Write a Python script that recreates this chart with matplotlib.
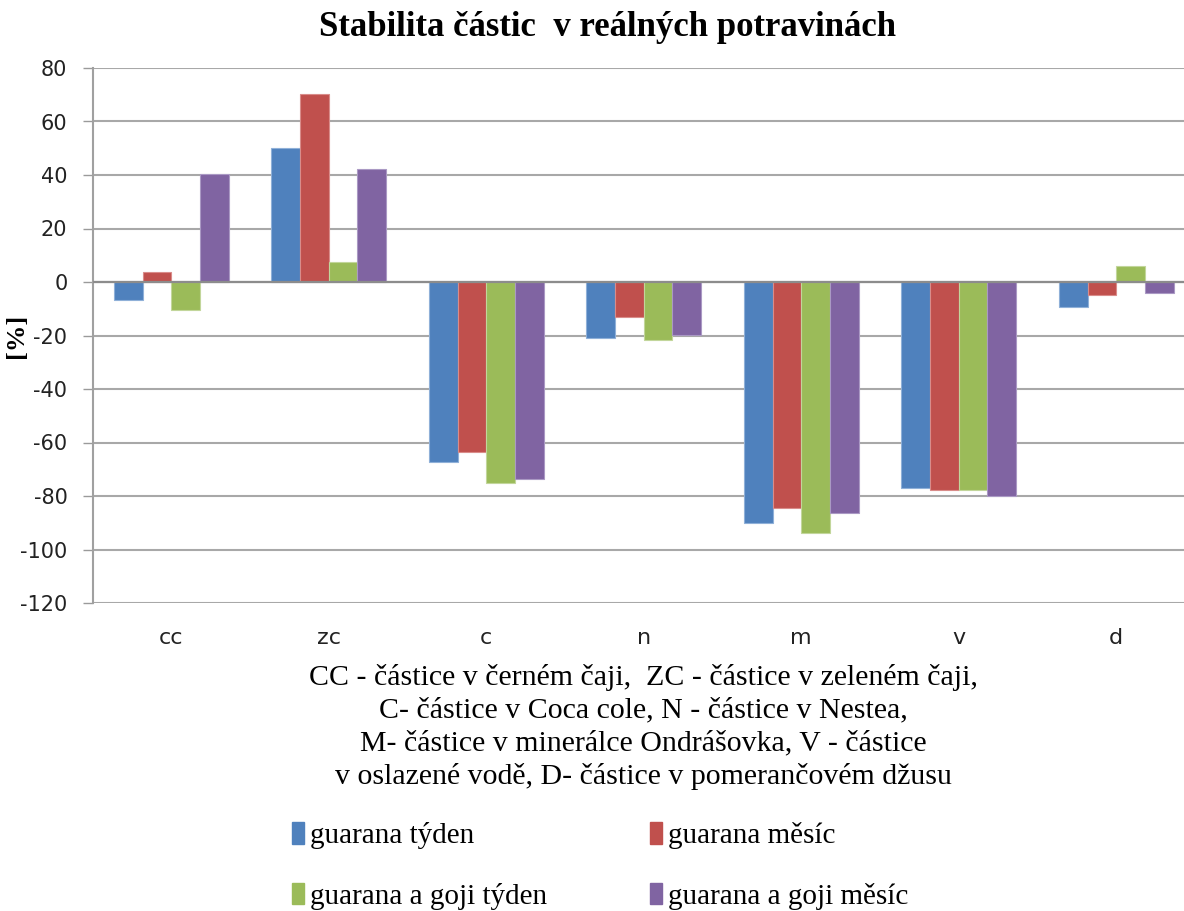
import numpy as np
import matplotlib
matplotlib.use("Agg")
import matplotlib.pyplot as plt
from matplotlib.patches import Patch

# data
categories = ["cc", "zc", "c", "n", "m", "v", "d"]
guarana_tyden = [-6.6, 50.0, -67.2, -20.9, -90.2, -77.1, -9.3]
guarana_mesic = [3.6, 70.2, -63.4, -13.0, -84.5, -77.6, -4.8]
goji_tyden = [-10.5, 7.5, -75.0, -21.7, -93.7, -77.6, 5.9]
goji_mesic = [40.5, 42.4, -73.8, -19.9, -86.3, -80.1, -4.0]

series_labels = ["guarana týden", "guarana měsíc",
                 "guarana a goji týden", "guarana a goji měsíc"]
series_colors = ["#4F81BD", "#C0504D", "#9BBB59", "#8064A2"]
edge_colors = ["#8FB0D8", "#D98C8A", "#C2D69B", "#AA99C4"]
y_ticks = [80, 60, 40, 20, 0, -20, -40, -60, -80, -100, -120]

title = "Stabilita částic  v reálných potravinách"
x_note = ("CC - částice v černém čaji,  ZC - částice v zeleném čaji,\n"
          "C- částice v Coca cole, N - částice v Nestea,\n"
          "M- částice v minerálce Ondrášovka, V - částice\n"
          "v oslazené vodě, D- částice v pomerančovém džusu")

serif = "Liberation Serif"
sans = "DejaVu Sans"

fig = plt.figure(figsize=(11.84, 9.11), dpi=100)
ax = fig.add_axes([92.5 / 1184, 1 - 603 / 911, 1102.5 / 1184, 535 / 911])

x = np.arange(len(categories))
bar_w = 0.73 / 4
all_series = [guarana_tyden, guarana_mesic, goji_tyden, goji_mesic]
for i, vals in enumerate(all_series):
    ax.bar(x + (i - 1.5) * bar_w, vals, width=bar_w, color=series_colors[i],
           edgecolor=edge_colors[i], linewidth=0.8, zorder=3)

ax.set_xlim(-0.5, len(categories) - 0.5)
ax.set_ylim(-120, 80)
ax.set_yticks(y_ticks)
ax.set_yticklabels([str(t) for t in y_ticks], fontsize=15, family=sans, color="#222222")
ax.set_xticks(x)
ax.set_xticklabels(categories, fontsize=16, family=sans, color="#222222")
ax.tick_params(axis="x", length=0, pad=18)
ax.tick_params(axis="y", length=7, width=1, color="#9a9a9a", pad=11, direction="out")

for t in y_ticks:
    ax.axhline(t, color="#a8a8a8", linewidth=1.5, zorder=1)
ax.axhline(0, color="#8c8c8c", linewidth=1.6, zorder=4)

for side in ["top", "right", "bottom"]:
    ax.spines[side].set_visible(False)
ax.spines["left"].set_color("#a0a0a0")
ax.spines["left"].set_linewidth(1.5)

ax.set_ylabel("[%]", fontsize=19, family=serif, fontweight="bold", va="center")
ax.yaxis.set_label_coords(-76 / 1102.5, 0.5)

fig.text(607 / 1184, 1 - 28 / 911, title, ha="center", va="center",
         fontsize=25, family=serif, fontweight="bold")

fig.text(643 / 1184, 1 - 727 / 911, x_note, ha="center", va="center",
         fontsize=21.5, family=serif, linespacing=1.33)

# legend fills column by column, so order entries to get the rows right
order = [0, 2, 1, 3]
handles = [Patch(facecolor=series_colors[i], edgecolor=series_colors[i]) for i in order]
labels = [series_labels[i] for i in order]
fig.legend(handles, labels, ncol=2, loc="upper left",
           bbox_to_anchor=(266 / 1184, 1 - 796 / 911), frameon=False,
           prop={"family": serif, "size": 21}, handlelength=0.4,
           handleheight=0.75, handletextpad=0.2, columnspacing=3.55,
           labelspacing=1.15)

fig.savefig("out.png", dpi=100)
